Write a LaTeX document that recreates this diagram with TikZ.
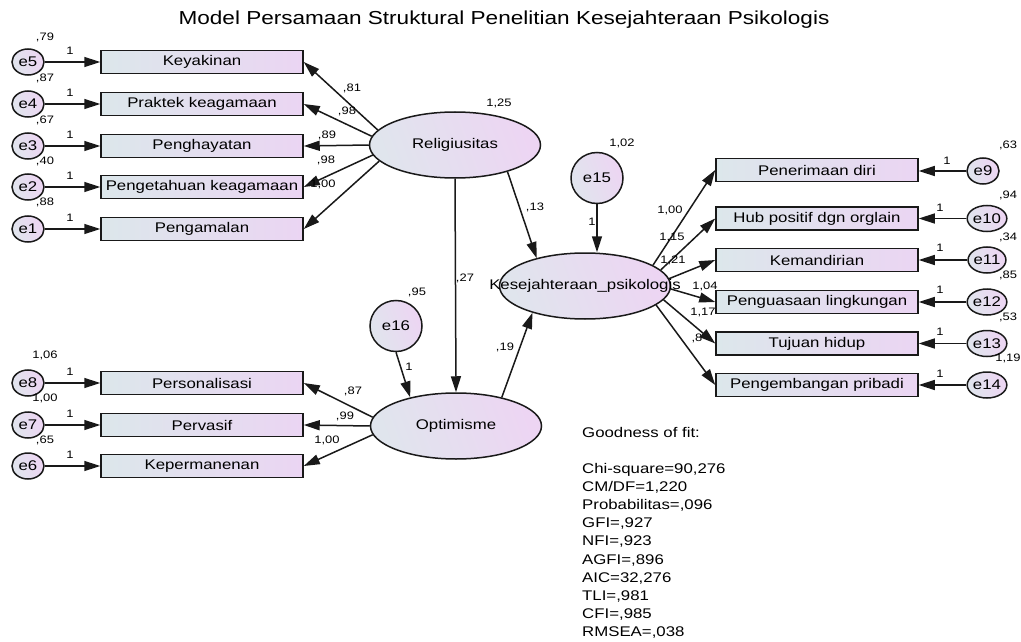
\documentclass[tikz,border=0pt]{standalone}
\usepackage{fontspec}
\setmainfont{Liberation Sans}[FakeStretch=1.2]
\usetikzlibrary{arrows.meta,shapes.geometric}
\definecolor{bxL}{RGB}{220,231,235}
\definecolor{bxR}{RGB}{235,213,243}
\definecolor{elL}{RGB}{224,229,237}
\definecolor{elR}{RGB}{237,213,243}
\definecolor{edge}{RGB}{25,25,25}
\newcommand\myftitle{\fontsize{18.8}{22}\selectfont}
\newcommand\myfmain{\fontsize{14}{16}\selectfont}
\newcommand\myfsmall{\fontsize{10.8}{12}\selectfont}
\begin{document}
\begin{tikzpicture}[x=1pt,y=-1pt,
  obs/.style={rectangle, draw=edge, line width=1.5pt, minimum width=202pt, minimum height=23pt, inner sep=0pt, left color=bxL, right color=bxR, font=\myfmain},
  err/.style={ellipse, draw=edge, line width=1.5pt, minimum width=32pt, minimum height=26pt, inner sep=0pt, left color=elL, right color=elR, shading angle=110, font=\myfmain},
  bigerr/.style={err, minimum width=52pt, minimum height=51pt},
  lat/.style={ellipse, draw=edge, line width=1.5pt, minimum width=171pt, minimum height=66pt, inner sep=0pt, left color=elL, right color=elR, shading angle=110},
  arr/.style={draw=edge, line width=1.5pt, -{Triangle[length=16pt,width=10pt]}},
  num/.style={font=\myfsmall, inner sep=0pt},
  lattext/.style={font=\myfmain, inner sep=0pt}
]
\fill[white] (0,0) rectangle (1021,642);
\useasboundingbox (0,0) rectangle (1021,642);

% title
\node[font=\myftitle, inner sep=0pt] (title) at (504,20) {Model Persamaan Struktural Penelitian Kesejahteraan Psikologis};

% labels drawn before boxes (some are partly hidden)
\node[num] (l8x) at (697,338) {,8};

% left boxes (Religiusitas)
\node[obs] (k1) at (202,62) {Keyakinan};
\node[obs] (k2) at (202,104) {Praktek keagamaan};
\node[obs] (k3) at (202,146) {Penghayatan};
\node[obs] (k4) at (202,187) {Pengetahuan keagamaan};
\node[obs] (k5) at (202,229) {Pengamalan};
\node[err] (e5) at (28,62) {e5};
\node[err] (e4) at (28,104) {e4};
\node[err] (e3) at (28,146) {e3};
\node[err] (e2) at (28,187) {e2};
\node[err] (e1) at (28,229) {e1};

% bottom left boxes (Optimisme)
\node[obs] (p1) at (202,383) {Personalisasi};
\node[obs] (p2) at (202,425) {Pervasif};
\node[obs] (p3) at (202,466) {Kepermanenan};
\node[err] (e8) at (28,383) {e8};
\node[err] (e7) at (28,425) {e7};
\node[err] (e6) at (28,466) {e6};

% right boxes (Kesejahteraan)
\node[obs] (r1) at (817,170) {Penerimaan diri};
\node[obs] (r2) at (817,218.5) {Hub positif dgn orglain};
\node[obs] (r3) at (817,260) {Kemandirian};
\node[obs] (r4) at (817,302) {Penguasaan lingkungan};
\node[obs] (r5) at (817,343.5) {Tujuan hidup};
\node[obs] (r6) at (817,385) {Pengembangan pribadi};
\node[err] (e9) at (983,171) {e9};
\node[err] (e10) at (987,218.5) {e10};
\node[err] (e11) at (987,260) {e11};
\node[err] (e12) at (987,302) {e12};
\node[err] (e13) at (987,343.5) {e13};
\node[err] (e14) at (987,385) {e14};

% latent variables
\node[lat] (rel) at (455,145) {};
\node[lattext] (relt) at (rel) {Religiusitas};
\node[lat] (opt) at (456,426) {};
\node[lattext] (optt) at (opt) {Optimisme};
\node[lat] (kes) at (585,286) {};
\node[bigerr] (e15) at (597,178) {e15};
\node[bigerr] (e16) at (396,326) {e16};

% error arrows
\foreach \e/\b in {e5/k1,e4/k2,e3/k3,e2/k4,e1/k5,e8/p1,e7/p2,e6/p3}
  \draw[arr] (\e) -- (\e -| \b.west);
\foreach \e/\b in {e9/r1,e10/r2,e11/r3,e12/r4,e13/r5,e14/r6}
  \draw[arr] (\e) -- (\e -| \b.east);

% loadings
\draw[arr] (rel.169) -- (k1.east);
\draw[arr] (rel.174) -- (k2.east);
\draw[arr] (rel.180) -- (k3.east);
\draw[arr] (rel.187) -- (k4.east);
\draw[arr] (rel.192) -- (k5.east);
\draw[arr] (opt.174) -- (p1.east);
\draw[arr] (opt.180) -- (p2.east);
\draw[arr] (opt.186) -- (p3.east);
\draw[arr] (kes.17) -- (r1.west);
\draw[arr] (kes.12) -- (r2.west);
\draw[arr] (kes.5) -- (r3.west);
\draw[arr] (kes.-2) -- (r4.west);
\draw[arr] (kes.-10) -- (r5.west);
\draw[arr] (kes.-15) -- (r6.west);

% structural paths
\draw[arr] (rel.south) -- (opt.north);
\draw[arr] (rel.-27) -- (kes.150);
\draw[arr] (opt.32) -- (kes.207);
\draw[arr] (e15) -- (e15 |- kes.north);
\draw[arr] (e16.south) -- (opt.148);
\node[lattext] (kest) at (kes) {Kesejahteraan\_psikologis};

% numbers - left
\foreach \y/\v in {37/{,79},78/{,87},120/{,67},161/{,40},202/{,88},355/{1,06},398/{1,00},440/{,65}}
  \node[num] at (45,\y) {\v};
\foreach \y in {51,93,135,176,218,372,414,455}
  \node[num] at (70,\y) {1};
\node[num] at (352,88) {,81};
\node[num] at (347,111) {,98};
\node[num] at (327,135) {,89};
\node[num] at (326,160) {,98};
\node[num] at (323,184) {1,00};
\node[num] at (353,391) {,87};
\node[num] at (345,416) {,99};
\node[num] at (327,440) {1,00};
% center
\node[num] at (499,103) {1,25};
\node[num] at (622,143) {1,02};
\node[num] at (592,222) {1};
\node[num] at (535,207) {,13};
\node[num] at (465,278) {,27};
\node[num] at (505,347) {,19};
\node[num] at (417,292) {,95};
\node[num] at (409,367) {1};
% right
\node[num] at (670,210) {1,00};
\node[num] at (672,237) {1,15};
\node[num] at (673,260) {1,21};
\node[num] at (705,286) {1,04};
\node[num] at (703,312) {1,17};
\foreach \y/\v in {145/{,63},195/{,94},237/{,34},275/{,85},317/{,53},358/{1,19}}
  \node[num] at (1008,\y) {\v};
\node[num] at (947,161) {1};
\foreach \y in {208,248,290,332,374}
  \node[num] at (940,\y) {1};

% goodness of fit
\node[anchor=north west, align=left, inner sep=0pt, font=\fontsize{14}{18.1}\selectfont] (gof) at (582,427)
 {Goodness of fit:\\[18.1pt]Chi-square=90,276\\CM/DF=1,220\\Probabilitas=,096\\GFI=,927\\NFI=,923\\AGFI=,896\\AIC=32,276\\TLI=,981\\CFI=,985\\RMSEA=,038};
\end{tikzpicture}
\end{document}
